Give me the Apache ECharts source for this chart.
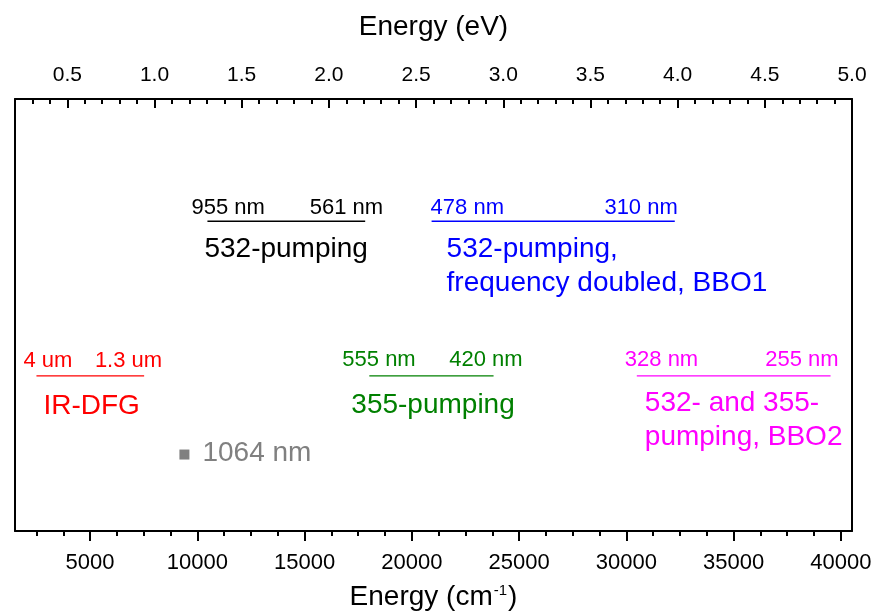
<!DOCTYPE html>
<html>
<head>
<meta charset="utf-8">
<script src="https://cdn.jsdelivr.net/npm/echarts@6/dist/echarts.min.js"></script>
<style>
html,body{margin:0;padding:0;background:#fff;}
#chart{width:876px;height:612px;}
</style>
</head>
<body>
<div id="chart"></div>
<script>
// ---------- data ----------
const bandTitles = ['532-pumping', '532-pumping,\nfrequency doubled, BBO1', 'IR-DFG', '355-pumping', '532- and 355-\npumping, BBO2'];
const bandStartCm = [10471, 20921, 2500, 18018, 30488];
const bandEndCm = [17825, 32258, 7520, 23810, 39520];
const bandLevel = [7.17, 7.17, 3.59, 3.59, 3.59];
const bandStartText = ['955 nm', '478 nm', '4 um', '555 nm', '328 nm'];
const bandEndText = ['561 nm', '310 nm', '1.3 um', '420 nm', '255 nm'];

const laserCm = [9398];
const laserLevel = [1.77];
const laserText = ['1064 nm'];

const cmTicks = [5000, 10000, 15000, 20000, 25000, 30000, 35000, 40000];
const cmMinorTicks = [2500, 3750, 6250, 7500, 8750, 11250, 12500, 13750, 16250, 17500, 18750,
  21250, 22500, 23750, 26250, 27500, 28750, 31250, 32500, 33750, 36250, 37500, 38750];
const eVTicks = [0.5, 1.0, 1.5, 2.0, 2.5, 3.0, 3.5, 4.0, 4.5, 5.0];
const eVMinorTicks = [0.3, 0.4, 0.6, 0.7, 0.8, 0.9, 1.1, 1.2, 1.3, 1.4, 1.6, 1.7, 1.8, 1.9,
  2.1, 2.2, 2.3, 2.4, 2.6, 2.7, 2.8, 2.9, 3.1, 3.2, 3.3, 3.4, 3.6, 3.7, 3.8, 3.9,
  4.1, 4.2, 4.3, 4.4, 4.6, 4.7, 4.8, 4.9];

// ---------- style / layout ----------
const FONT = "'Liberation Sans', Arial, sans-serif";
const bandColors = ['#000000', '#0000ff', '#ff0000', '#008000', '#ff00ff'];
const startDx = [-16, -1, -13, -27, -12];
const endDx = [18, 3, 18, 29, 8];
const tickDy = [-13, -13, -15, -16, -16];
const titleDx = [-3, 15, 7, -18, 8];
const titleDy = [28, 28, 30, 29, 27];
const TITLE_LH = 34;

const series = [];
bandTitles.forEach((title, i) => {
  const c = bandColors[i];
  series.push({
    type: 'line', xAxisIndex: 0, yAxisIndex: 0,
    data: [[bandStartCm[i], bandLevel[i]], [bandEndCm[i], bandLevel[i]]],
    symbol: 'none', silent: true, animation: false,
    lineStyle: { color: c, width: 1.3 }
  });
  const lblBase = { show: true, position: 'inside', color: c, fontFamily: FONT, opacity: 1 };
  series.push({
    type: 'scatter', xAxisIndex: 0, yAxisIndex: 0, silent: true, animation: false,
    symbolSize: 1, itemStyle: { color: 'rgba(0,0,0,0)', opacity: 1 },
    data: [
      { value: [bandStartCm[i], bandLevel[i]], label: Object.assign({}, lblBase, {
          formatter: bandStartText[i], align: 'left', verticalAlign: 'middle', fontSize: 22, offset: [startDx[i], tickDy[i]] }) },
      { value: [bandEndCm[i], bandLevel[i]], label: Object.assign({}, lblBase, {
          formatter: bandEndText[i], align: 'right', verticalAlign: 'middle', fontSize: 22, offset: [endDx[i], tickDy[i]] }) },
      { value: [bandStartCm[i], bandLevel[i]], label: Object.assign({}, lblBase, {
          formatter: title, align: 'left', verticalAlign: 'top', fontSize: 28, lineHeight: TITLE_LH,
          offset: [titleDx[i], titleDy[i] - TITLE_LH / 2] }) }
    ]
  });
});
series.push({
  type: 'scatter', xAxisIndex: 0, yAxisIndex: 0, silent: true, animation: false,
  symbol: 'rect', symbolSize: 10, itemStyle: { color: '#808080', opacity: 1 },
  data: laserCm.map((x, i) => ({ value: [x, laserLevel[i]], name: laserText[i] })),
  label: { show: true, position: 'right', distance: 13, offset: [0, -1], formatter: p => p.name,
    color: '#808080', fontSize: 28, fontFamily: FONT, opacity: 1 }
});

const axisLineStyle = { color: '#000', width: 2 };
const chart = echarts.init(document.getElementById('chart'), null, { renderer: 'canvas' });
chart.setOption({
  animation: false,
  backgroundColor: '#fff',
  grid: { left: 15, right: 24, top: 99, bottom: 81, containLabel: false, outerBoundsMode: 'none' },
  xAxis: [
    {
      type: 'value', position: 'bottom', min: 1500, max: 40520,
      axisLine: { show: true, onZero: false, lineStyle: axisLineStyle },
      axisTick: { show: true, customValues: cmTicks, length: 10, lineStyle: { color: '#000', width: 2 } },
      axisLabel: { show: true, customValues: cmTicks, formatter: v => String(Math.round(v)),
        fontSize: 22, color: '#000', margin: 21, fontFamily: FONT },
      splitLine: { show: false },
      name: '{a|Energy (cm}{sup|-1}{a|)}', nameLocation: 'middle', nameGap: 52,
      nameTextStyle: { fontFamily: FONT, color: '#000', fontSize: 28,
        rich: { a: { fontSize: 28, fontFamily: FONT, color: '#000' },
                sup: { fontSize: 15, fontFamily: FONT, color: '#000', verticalAlign: 'bottom', padding: [0, 1, 14, 1] } } }
    },
    {
      type: 'value', position: 'bottom', min: 1500, max: 40520,
      axisLine: { show: false, onZero: false },
      axisTick: { show: true, customValues: cmMinorTicks, length: 5, lineStyle: { color: '#000', width: 2 } },
      axisLabel: { show: false }, splitLine: { show: false }
    },
    {
      type: 'value', position: 'top', min: 0.2, max: 5.0,
      axisLine: { show: true, onZero: false, lineStyle: axisLineStyle },
      axisTick: { show: true, inside: true, customValues: eVTicks, length: 9, lineStyle: { color: '#000', width: 2 } },
      axisLabel: { show: true, customValues: eVTicks, formatter: v => v.toFixed(1), fontSize: 21, color: '#000', margin: 13, fontFamily: FONT },
      splitLine: { show: false },
      name: 'Energy (eV)', nameLocation: 'middle', nameGap: 58,
      nameTextStyle: { fontFamily: FONT, color: '#000', fontSize: 28 }
    },
    {
      type: 'value', position: 'top', min: 0.2, max: 5.0,
      axisLine: { show: false, onZero: false },
      axisTick: { show: true, inside: true, customValues: eVMinorTicks, length: 5, lineStyle: { color: '#000', width: 2 } },
      axisLabel: { show: false }, splitLine: { show: false }
    }
  ],
  yAxis: [
    { type: 'value', position: 'left', min: 0, max: 10,
      axisLine: { show: true, onZero: false, lineStyle: axisLineStyle },
      axisTick: { show: false }, axisLabel: { show: false }, splitLine: { show: false } },
    { type: 'value', position: 'right', min: 0, max: 10,
      axisLine: { show: true, onZero: false, lineStyle: axisLineStyle },
      axisTick: { show: false }, axisLabel: { show: false }, splitLine: { show: false } }
  ],
  series: series
});
</script>
</body>
</html>
